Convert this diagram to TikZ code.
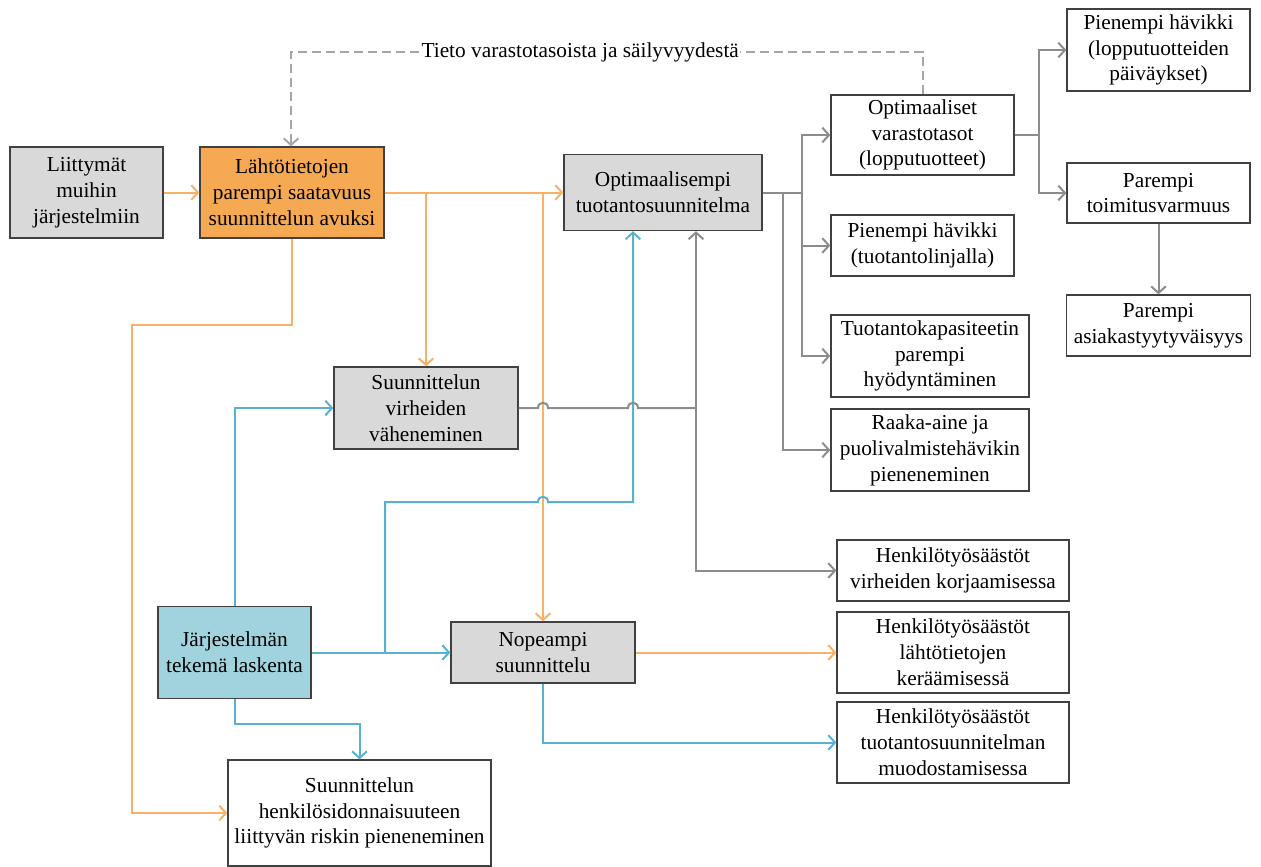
\documentclass[tikz,border=0pt]{standalone}
\usepackage{fontspec}
\setmainfont{Liberation Serif}
\usetikzlibrary{arrows.meta}
\definecolor{boxline}{RGB}{64,64,64}
\definecolor{graybox}{RGB}{217,217,217}
\definecolor{orangebox}{RGB}{245,169,82}
\definecolor{bluebox}{RGB}{160,211,222}
\definecolor{orangeln}{RGB}{248,178,103}
\definecolor{blueln}{RGB}{88,178,207}
\definecolor{grayln}{RGB}{140,140,140}
\definecolor{dashln}{RGB}{165,165,165}
\begin{document}
\begin{tikzpicture}[x=0.75pt,y=-0.75pt,
  txt/.style={font=\fontsize{16}{19.4}\selectfont},
  box/.style={txt,draw=boxline,line width=1pt,align=center,inner sep=0pt,fill=white},
  sz/.style 2 args={minimum width=#1*0.75pt,minimum height=#2*0.75pt},
  conn/.style={line width=1.5pt,line join=miter},
  tip/.style={-{Straight Barb[length=5pt,width=11pt]}},
  oline/.style={conn,draw=orangeln},
  bline/.style={conn,draw=blueln},
  gline/.style={conn,draw=grayln},
  fback/.style={conn,draw=dashln,dash pattern=on 6.75pt off 3.75pt},
  lab/.style={txt,fill=white,inner xsep=0.5pt,inner ysep=0pt}
]
\useasboundingbox (0,0) rectangle (1261,867);

% boxes
\node[box,fill=graybox,sz={153}{91}] (lii) at (86.5,192.5) {Liittymät\\muihin\\järjestelmiin};
\node[box,fill=orangebox,sz={184}{91}] (lah) at (292,192.5) {Lähtötietojen\\parempi saatavuus\\suunnittelun avuksi};
\node[box,fill=graybox,sz={198}{76}] (opt) at (663,192.5) {Optimaalisempi\\tuotantosuunnitelma};
\node[box,sz={183}{80}] (var) at (922.5,135) {Optimaaliset\\varastotasot\\(lopputuotteet)};
\node[box,sz={183}{82}] (hv1) at (1158.5,50) {Pienempi hävikki\\(lopputuotteiden\\päiväykset)};
\node[box,sz={183}{60}] (toi) at (1158.5,193) {Parempi\\toimitusvarmuus};
\node[box,sz={184}{61}] (asi) at (1158.5,325.5) {Parempi\\asiakastyytyväisyys};
\node[box,sz={183}{61}] (hv2) at (922.5,245.5) {Pienempi hävikki\\(tuotantolinjalla)};
\node[box,sz={198}{82}] (kap) at (930,356) {Tuotantokapasiteetin\\parempi\\hyödyntäminen};
\node[box,sz={198}{82}] (raa) at (930,450) {Raaka-aine ja\\puolivalmistehävikin\\pieneneminen};
\node[box,fill=graybox,sz={184}{82}] (vir) at (426,408) {Suunnittelun\\virheiden\\väheneminen};
\node[box,sz={232}{61}] (hk1) at (953,570.5) {Henkilötyösäästöt\\virheiden korjaamisessa};
\node[box,sz={232}{81}] (hk2) at (953,652.5) {Henkilötyösäästöt\\lähtötietojen\\keräämisessä};
\node[box,sz={232}{81}] (hk3) at (953,742.5) {Henkilötyösäästöt\\tuotantosuunnitelman\\muodostamisessa};
\node[box,fill=graybox,sz={184}{61}] (nop) at (543,652.5) {Nopeampi\\suunnittelu};
\node[box,fill=bluebox,sz={153}{92}] (jar) at (234.5,652.5) {Järjestelmän\\tekemä laskenta};
\node[box,sz={263}{106}] (hen) at (359.5,813) {Suunnittelun\\henkilösidonnaisuuteen\\liittyvän riskin pieneneminen};

% junction and bend points
\coordinate (oj1) at (426,192.5);
\coordinate (oj2) at (543,192.5);
\coordinate (ob1) at (132,325);
\coordinate (bj1) at (385,652.5);
\coordinate (bb1) at (385,502);
\coordinate (bb2) at (633,502);
\coordinate (bb3) at (234.5,724);
\coordinate (gj1) at (802,192.5);
\coordinate (gj2) at (783,192.5);
\coordinate (gj3) at (1039,135);
\coordinate (gj4) at (696,408);
\coordinate (d1) at (922.5,52);
\coordinate (d2) at (291,52);

% orange connectors
\draw[oline,tip] (lii.east) -- (lah.west);
\draw[oline,tip] (lah.east) -- (opt.west);
\draw[oline,tip] (oj1) -- (vir.north);
\draw[oline,tip] (oj2) -- (nop.north);
\draw[oline,tip] (lah.south) |- (ob1) |- (hen.west);
\draw[oline,tip] (nop.east) -- (hk2.west);

% blue connectors
\draw[bline,tip] (jar.north) |- (vir.west);
\draw[bline,tip] (jar.east) -- (nop.west);
\draw[bline,tip] (bj1) -- (bb1) -- (538,502) .. controls (538,495) and (548,495) .. (548,502) -- (bb2) -- (bb2 |- opt.south);
\draw[bline,tip] (jar.south) -- (bb3) -| (hen.north);
\draw[bline,tip] (nop.south) |- (hk3.west);

% gray connectors
\draw[gline] (opt.east) -- (gj1);
\draw[gline,tip] (gj1) |- (var.west);
\draw[gline,tip] (gj1) |- (hv2.west);
\draw[gline,tip] (gj1) |- (kap.west);
\draw[gline,tip] (gj2) |- (raa.west);
\draw[gline] (var.east) -- (gj3);
\draw[gline,tip] (gj3) |- (hv1.west);
\draw[gline,tip] (gj3) |- (toi.west);
\draw[gline,tip] (toi.south) -- (asi.north);
\draw[gline] (vir.east) -- (538,408) .. controls (538,401) and (548,401) .. (548,408)
  -- (628,408) .. controls (628,401) and (638,401) .. (638,408) -- (gj4);
\draw[gline,tip] (gj4) -- (gj4 |- opt.south);
\draw[gline,tip] (gj4) |- (hk1.west);

% feedback loop
\draw[fback,tip] (var.north) -- (d1)
  -- node[lab,pos=0.542] (fbl) {Tieto varastotasoista ja säilyvyydestä} (d2)
  -- (d2 |- lah.north);
\end{tikzpicture}
\end{document}
